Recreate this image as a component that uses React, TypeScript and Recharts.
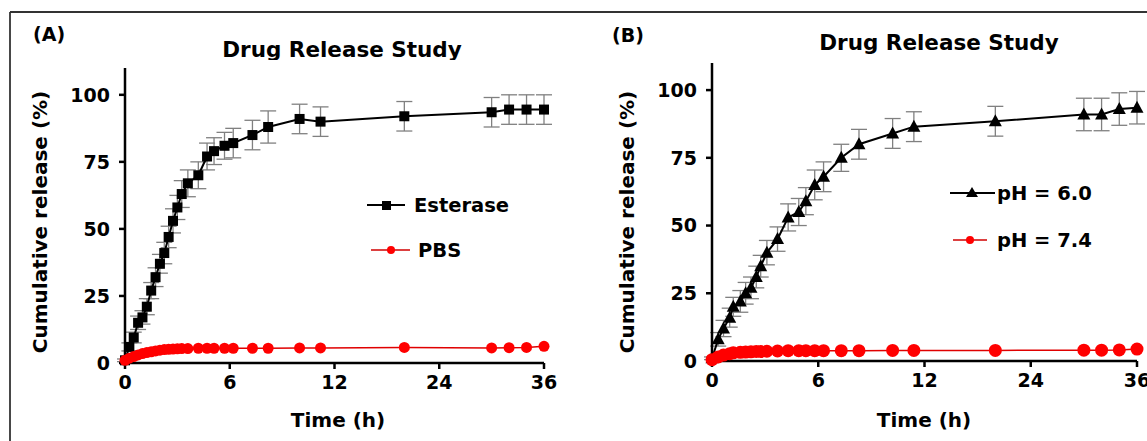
import React from 'react';
import { LineChart, Line, XAxis, YAxis, ErrorBar } from 'recharts';

// piecewise time axis: 0-12 h linear, 12-36 h compressed by half
const TIME_TICKS = [0, 6, 12, 24, 36];
const Y_TICKS = [0, 25, 50, 75, 100];

// (A) esterase vs PBS
const timeA = [0, 0.25, 0.5, 0.75, 1, 1.25, 1.5, 1.75, 2, 2.25, 2.5, 2.75, 3, 3.25, 3.6, 4.2, 4.7, 5.1, 5.7, 6.2, 7.3, 8.2, 10, 11.2, 20, 30, 32, 34, 36];
const esterase = [1, 6, 9.5, 15, 17, 21, 27, 32, 37, 41, 47, 53, 58, 63, 67, 70, 77, 79, 81, 82, 85, 88, 91, 90, 92, 93.5, 94.5, 94.5, 94.5];
const esteraseErr = [0.5, 1.5, 2, 2.5, 2.5, 3, 3, 3.5, 3.5, 4, 4, 4.5, 4.5, 5, 5, 5, 5, 5, 5, 5.5, 5.5, 6, 5.5, 5.5, 5.5, 5.5, 5.5, 5.5, 5.5];
const pbs = [1, 1.8, 2.4, 3.0, 3.5, 3.9, 4.2, 4.5, 4.8, 5.0, 5.1, 5.2, 5.3, 5.4, 5.4, 5.5, 5.5, 5.5, 5.5, 5.5, 5.5, 5.5, 5.6, 5.6, 5.8, 5.6, 5.7, 5.8, 6.2];

// (B) pH 6.0 vs pH 7.4
const timeB = [0, 0.35, 0.65, 1, 1.2, 1.6, 1.9, 2.2, 2.5, 2.75, 3.1, 3.7, 4.3, 4.9, 5.3, 5.8, 6.3, 7.3, 8.3, 10.2, 11.4, 20, 30, 32, 34, 36];
const ph60 = [1, 8, 12, 16, 20, 22, 25, 27, 31, 35, 40, 45, 53, 55, 59, 65, 68, 75, 80, 84, 86.5, 88.5, 91, 91, 93, 93.5];
const ph60Err = [0.5, 2.5, 3, 3.5, 3.5, 4, 4, 4, 4, 4, 4.5, 4.5, 5, 5, 5, 5.5, 5.5, 5, 5.5, 5.5, 5.5, 5.5, 6, 6, 6, 6];
const ph74 = [0.5, 1.5, 2.2, 2.7, 3.0, 3.2, 3.3, 3.4, 3.5, 3.5, 3.6, 3.7, 3.8, 3.8, 3.8, 3.8, 3.8, 3.8, 3.8, 3.9, 3.9, 3.9, 4.0, 4.0, 4.1, 4.4];

const toU = (t: number) => (t <= 12 ? t : 12 + (t - 12) / 2);
const tickU = TIME_TICKS.map(toU);
const tickLabel = (u: number) => String(TIME_TICKS[tickU.indexOf(u)] ?? u);

const dataA = timeA.map((t, i) => ({ u: toU(t), est: esterase[i], estErr: esteraseErr[i], pbs: pbs[i] }));
const dataB = timeB.map((t, i) => ({ u: toU(t), acid: ph60[i], acidErr: ph60Err[i], neutral: ph74[i] }));

const FONT = '"DejaVu Sans", sans-serif';
const RED = '#ff0000';
const tickStyle = { fontFamily: FONT, fontSize: 19, fontWeight: 700, fill: '#000' };

const square = (p: any) => <rect key={p.index} x={p.cx - 5} y={p.cy - 5} width={10} height={10} fill="#000" />;
const triangle = (p: any) => (
  <path key={p.index} d={`M${p.cx},${p.cy - 7} L${p.cx + 6.5},${p.cy + 5} L${p.cx - 6.5},${p.cy + 5} Z`} fill="#000" />
);
const circle = (r: number) => (p: any) => <circle key={p.index} cx={p.cx} cy={p.cy} r={r} fill={RED} />;

function Panel(props: { data: any[]; width: number; top: number; right: number; bottom: number; black: string; err: string; red: string; blackDot: any; redR: number }) {
  const { data, width, top, right, bottom } = props;
  return (
    <LineChart width={width} height={441} data={data} margin={{ top, right, bottom, left: 75 }}>
      <XAxis
        dataKey="u"
        type="number"
        domain={[0, 24]}
        ticks={tickU}
        tickFormatter={tickLabel}
        height={30}
        stroke="#000"
        strokeWidth={2.5}
        tickSize={6}
        tickMargin={7}
        tick={tickStyle}
        interval={0}
      />
      <YAxis
        type="number"
        domain={[0, 110]}
        ticks={Y_TICKS}
        width={50}
        stroke="#000"
        strokeWidth={2.5}
        tickSize={6}
        tickMargin={9}
        tick={tickStyle}
        interval={0}
      />
      <Line dataKey={props.black} stroke="#000" strokeWidth={2} dot={props.blackDot} isAnimationActive={false}>
        <ErrorBar dataKey={props.err} width={8} stroke="#808080" strokeWidth={1.3} isAnimationActive={false} />
      </Line>
      <Line dataKey={props.red} stroke="#e00000" strokeWidth={1.5} dot={circle(props.redR)} isAnimationActive={false} />
    </LineChart>
  );
}

const txt = { fontFamily: FONT, fontWeight: 700, fill: '#000' } as const;

export default function App() {
  return (
    <div style={{ position: 'absolute', left: 0, top: 0, width: 1147, height: 441, background: '#fff', overflow: 'hidden' }}>
      <div style={{ position: 'absolute', left: 0, top: 0 }}>
        <Panel data={dataA} width={600} top={68} right={56} bottom={48} black="est" err="estErr" red="pbs" blackDot={square} redR={5.5} />
      </div>
      <div style={{ position: 'absolute', left: 587, top: 0 }}>
        <Panel data={dataB} width={560} top={63} right={10} bottom={50} black="acid" err="acidErr" red="neutral" blackDot={triangle} redR={6.5} />
      </div>
      <svg width={1147} height={441} style={{ position: 'absolute', left: 0, top: 0, pointerEvents: 'none' }}>
        <defs>
          <clipPath id="clipA"><rect x={0} y={0} width={590} height={60} /></clipPath>
          <clipPath id="clipB"><rect x={590} y={0} width={560} height={55} /></clipPath>
        </defs>
        <line x1={10} y1={12} x2={1147} y2={12} stroke="#333" strokeWidth={1.8} />
        <line x1={10} y1={12} x2={10} y2={441} stroke="#333" strokeWidth={1.8} />

        <text x={33} y={41} fontSize={19} {...txt}>(A)</text>
        <text x={612} y={42} fontSize={19} {...txt}>(B)</text>
        <g clipPath="url(#clipA)">
          <text x={342} y={57} fontSize={21.5} textAnchor="middle" {...txt}>Drug Release Study</text>
        </g>
        <g clipPath="url(#clipB)">
          <text x={939} y={50} fontSize={21.5} textAnchor="middle" {...txt}>Drug Release Study</text>
        </g>

        <text transform="translate(47,222) rotate(-90)" fontSize={20} textAnchor="middle" {...txt}>Cumulative release (%)</text>
        <text transform="translate(634,222) rotate(-90)" fontSize={20} textAnchor="middle" {...txt}>Cumulative release (%)</text>
        <text x={338} y={427} fontSize={20} textAnchor="middle" {...txt}>Time (h)</text>
        <text x={924} y={427} fontSize={20} textAnchor="middle" {...txt}>Time (h)</text>

        <line x1={367} y1={205} x2={405} y2={205} stroke="#000" strokeWidth={2} />
        <rect x={382} y={201} width={9} height={9} fill="#000" />
        <text x={414} y={212} fontSize={19.5} {...txt}>Esterase</text>
        <line x1={371} y1={250} x2={410} y2={250} stroke="#d00000" strokeWidth={1.5} />
        <circle cx={391} cy={250} r={4} fill={RED} />
        <text x={418} y={257} fontSize={19.5} {...txt}>PBS</text>

        <line x1={950} y1={193} x2={995} y2={193} stroke="#000" strokeWidth={2} />
        <path d="M972,187 L978,197 L966,197 Z" fill="#000" />
        <text x={997} y={200} fontSize={19.5} {...txt}>pH = 6.0</text>
        <line x1={953} y1={240} x2={987} y2={240} stroke="#d00000" strokeWidth={1.5} />
        <circle cx={970} cy={240} r={4} fill={RED} />
        <text x={997} y={247} fontSize={19.5} {...txt}>pH = 7.4</text>
      </svg>
    </div>
  );
}
